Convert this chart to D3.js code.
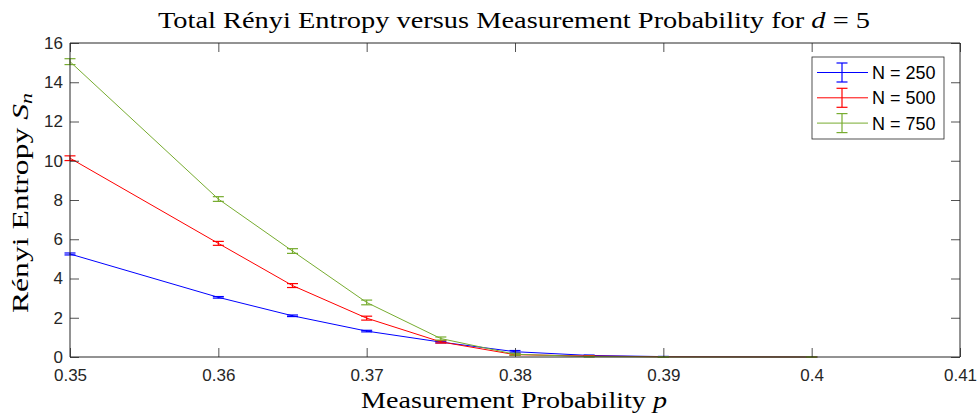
<!DOCTYPE html>
<html><head><meta charset="utf-8">
<script src="https://cdn.jsdelivr.net/npm/d3@7"></script>
<style>body{margin:0;background:#fff}svg{display:block}</style>
</head><body>
<svg id="c" width="977" height="415"></svg>
<script>
const pValues = [0.35, 0.36, 0.365, 0.37, 0.375, 0.38, 0.385, 0.39, 0.40];
const seriesNames = ["N = 250", "N = 500", "N = 750"];
const entropyN250 = [5.25, 3.04, 2.10, 1.32, 0.76, 0.27, 0.08, 0.02, 0.0];
const entropyN500 = [10.13, 5.79, 3.64, 1.98, 0.77, 0.12, 0.05, 0.01, 0.0];
const entropyN750 = [15.05, 8.05, 5.40, 2.78, 0.94, 0.14, 0.02, 0.0, 0.0];
const errN250 = [0.05, 0.04, 0.04, 0.04, 0.04, 0.06, 0.02, 0.01, 0.0];
const errN500 = [0.12, 0.1, 0.1, 0.1, 0.06, 0.04, 0.02, 0.01, 0.0];
const errN750 = [0.15, 0.12, 0.12, 0.12, 0.08, 0.05, 0.02, 0.01, 0.0];
const xTicks = [0.35, 0.36, 0.37, 0.38, 0.39, 0.40, 0.41];
const yTicks = [0, 2, 4, 6, 8, 10, 12, 14, 16];
const colors = ["#0000ff", "#ff0000", "#77ac30"];

const series = [
  {name: seriesNames[0], vals: entropyN250, err: errN250, color: colors[0]},
  {name: seriesNames[1], vals: entropyN500, err: errN500, color: colors[1]},
  {name: seriesNames[2], vals: entropyN750, err: errN750, color: colors[2]}
];

const L = 70, R = 960, T = 43, B = 357;
const svg = d3.select("#c");
const x = d3.scaleLinear().domain([0.35, 0.41]).range([L, R]);
const y = d3.scaleLinear().domain([0, 16]).range([B, T]);
const axisColor = "#262626";
const tickFont = "Liberation Sans, Arial, sans-serif";

// series
series.forEach(s => {
  const pts = pValues.map((p, i) => ({p, v: s.vals[i], e: s.err[i]}));
  svg.append("path").datum(pts)
    .attr("fill", "none").attr("stroke", s.color).attr("stroke-width", 1)
    .attr("d", d3.line().x(d => x(d.p)).y(d => y(d.v)));
  const g = svg.append("g").attr("stroke", s.color).attr("stroke-width", 1.2);
  pts.forEach(d => {
    const cx = x(d.p), y1 = y(d.v - d.e), y2 = y(d.v + d.e);
    g.append("line").attr("x1", cx).attr("x2", cx).attr("y1", y1).attr("y2", y2);
    g.append("line").attr("x1", cx - 5.5).attr("x2", cx + 5.5).attr("y1", y1).attr("y2", y1);
    g.append("line").attr("x1", cx - 5.5).attr("x2", cx + 5.5).attr("y1", y2).attr("y2", y2);
  });
});

// axes
const xAxis = d3.axisBottom(x).tickValues(xTicks).tickSize(-9).tickPadding(12)
  .tickFormat(d => d3.format("")(+d.toFixed(2)));
const gx = svg.append("g").attr("transform", `translate(0,${B})`).call(xAxis);
const gxTop = svg.append("g").attr("transform", `translate(0,${T})`)
  .call(d3.axisTop(x).tickValues(xTicks).tickSize(-9).tickFormat(""));
const yAxis = d3.axisLeft(y).tickValues(yTicks).tickSize(-9).tickPadding(7);
const gy = svg.append("g").attr("transform", `translate(${L},0)`).call(yAxis);
const gyR = svg.append("g").attr("transform", `translate(${R},0)`)
  .call(d3.axisRight(y).tickValues(yTicks).tickSize(-9).tickFormat(""));
[gx, gxTop, gy, gyR].forEach(g => {
  g.select(".domain").attr("stroke", axisColor).attr("stroke-width", 1);
  g.selectAll(".tick line").attr("stroke", axisColor).attr("stroke-width", 0.8);
  g.selectAll(".tick text").attr("fill", axisColor)
    .style("font-family", tickFont).style("font-size", "17px");
});
gx.selectAll(".domain").attr("d", `M${L},0H${R}`);
gxTop.selectAll(".domain").attr("d", `M${L},0H${R}`);
gy.selectAll(".domain").attr("d", `M0,${T}V${B}`);
gyR.selectAll(".domain").attr("d", `M0,${T}V${B}`);

// title & labels
const serif = "'Liberation Serif', serif";
svg.append("text").attr("x", 158).attr("y", 28)
  .attr("textLength", 712).attr("lengthAdjust", "spacingAndGlyphs")
  .style("font-family", serif).style("font-size", "23px").attr("fill", "#000")
  .html("Total Rényi Entropy versus Measurement Probability for <tspan font-style='italic'>d</tspan> = 5");
svg.append("text").attr("x", 361).attr("y", 408)
  .attr("textLength", 306).attr("lengthAdjust", "spacingAndGlyphs")
  .style("font-family", serif).style("font-size", "23px").attr("fill", "#000")
  .html("Measurement Probability <tspan font-style='italic'>p</tspan>");
const yl = svg.append("text").attr("transform", "translate(28,313) rotate(-90)")
  .attr("textLength", 220).attr("lengthAdjust", "spacingAndGlyphs")
  .style("font-family", serif).style("font-size", "23px").attr("fill", "#000");
yl.append("tspan").text("Rényi Entropy ");
yl.append("tspan").attr("font-style", "italic").text("S");
yl.append("tspan").attr("font-style", "italic").attr("font-size", "16px").attr("dy", 4).text("n");

// legend
const lg = svg.append("g");
lg.append("rect").attr("x", 812).attr("y", 57).attr("width", 132).attr("height", 82)
  .attr("fill", "#fff").attr("stroke", axisColor).attr("stroke-width", 0.8);
series.forEach((s, i) => {
  const cy = 72.5 + i * 25.3;
  lg.append("line").attr("x1", 817).attr("x2", 868).attr("y1", cy).attr("y2", cy)
    .attr("stroke", s.color).attr("stroke-width", 1);
  lg.append("line").attr("x1", 842).attr("x2", 842).attr("y1", cy - 9.5).attr("y2", cy + 9.5)
    .attr("stroke", s.color).attr("stroke-width", 1.2);
  [cy - 9.5, cy + 9.5].forEach(yy => lg.append("line").attr("x1", 836.5).attr("x2", 847.5)
    .attr("y1", yy).attr("y2", yy).attr("stroke", s.color).attr("stroke-width", 1.2));
  lg.append("text").attr("x", 872).attr("y", cy + 6.5).text(s.name)
    .style("font-family", tickFont).style("font-size", "18px").attr("fill", "#000");
});
</script>
</body></html>
